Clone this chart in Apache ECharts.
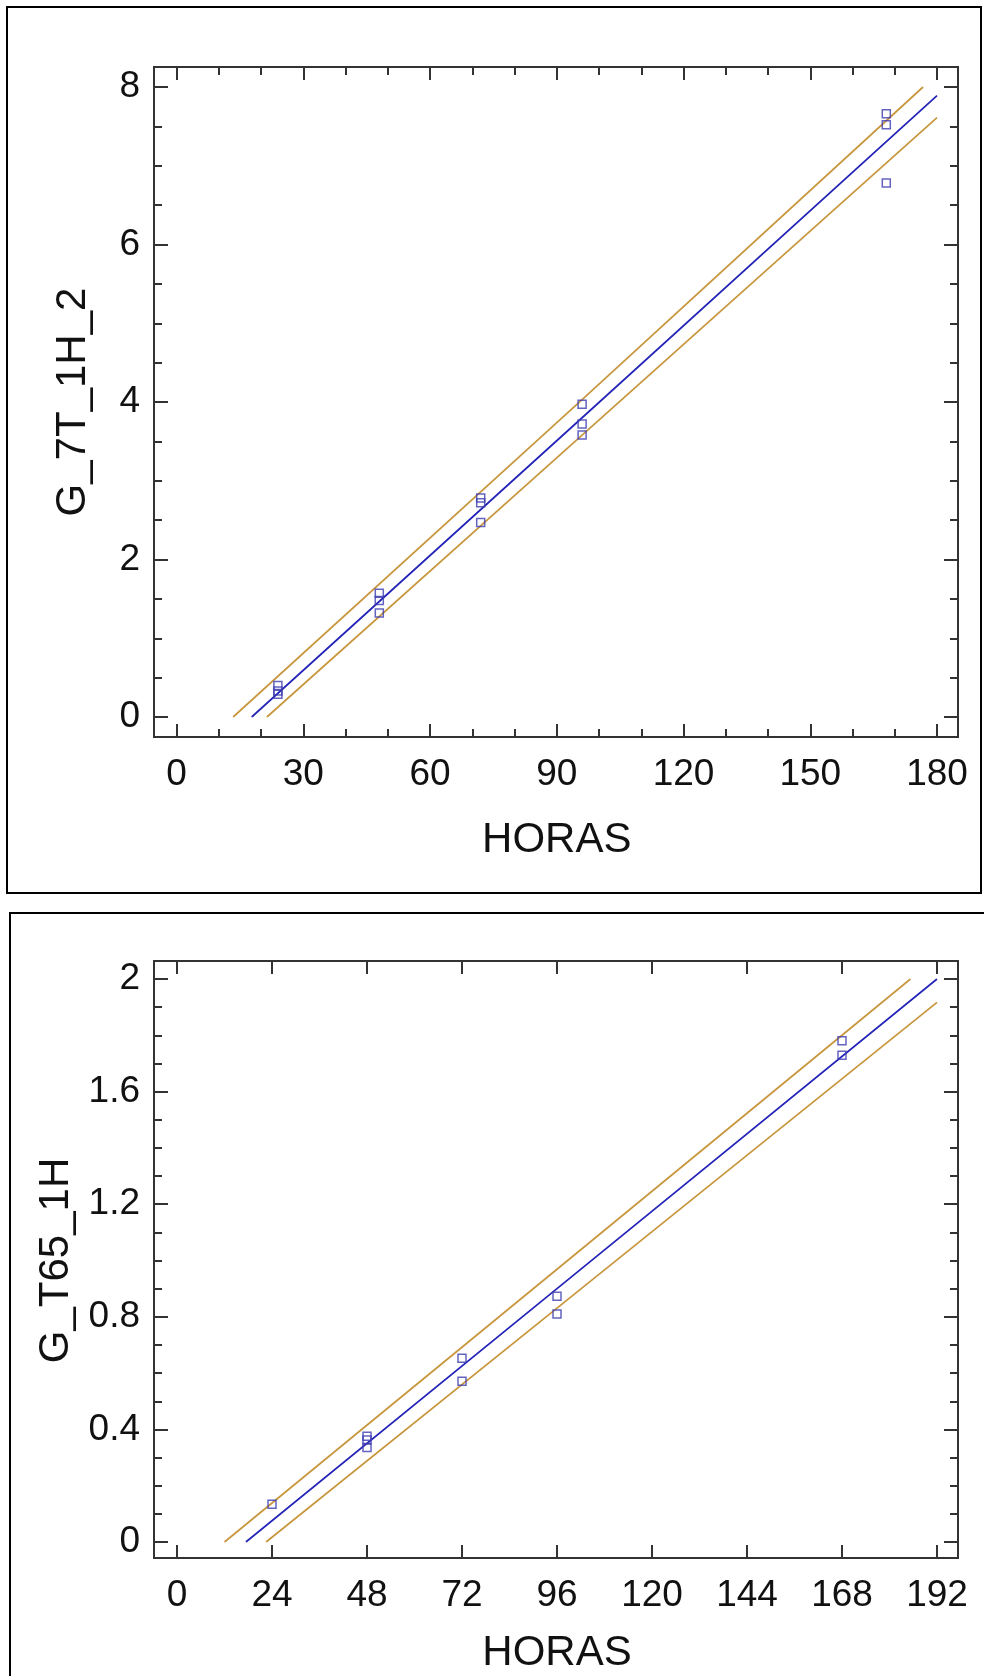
<!DOCTYPE html>
<html>
<head>
<meta charset="utf-8">
<title>HORAS</title>
<script src="https://cdn.jsdelivr.net/npm/echarts@6/dist/echarts.min.js"></script>
<style>
  html, body { margin: 0; padding: 0; background: #fff; }
  #main { width: 984px; height: 1676px; }
</style>
</head>
<body>
<div id="main"></div>
<script>
// datos del grafico 1 (G_7T_1H_2)
var horas1 = [24, 24, 24, 48, 48, 48, 72, 72, 72, 96, 96, 96, 168, 168, 168];
var g7t = [0.40, 0.33, 0.29, 1.57, 1.48, 1.32, 2.78, 2.72, 2.47, 3.97, 3.72, 3.58, 7.66, 7.52, 6.78];
var ajusteX1 = [17.8, 96, 180];
var ajusteY1 = [0, 3.80, 7.89];
var limSupX1 = [13.4, 96, 176.7];
var limSupY1 = [0, 4.03, 8.0];
var limInfX1 = [21.4, 96, 180];
var limInfY1 = [0, 3.58, 7.61];
var ticksX1 = [0, 30, 60, 90, 120, 150, 180];
var ticksY1 = [0, 2, 4, 6, 8];

// datos del grafico 2 (G_T65_1H)
var horas2 = [24, 48, 48, 48, 72, 72, 96, 96, 168, 168];
var gt65 = [0.134, 0.376, 0.362, 0.336, 0.653, 0.571, 0.873, 0.810, 1.781, 1.729];
var ajusteX2 = [17.4, 96, 192];
var ajusteY2 = [0, 0.90, 2.0];
var limSupX2 = [12.0, 96, 185.3];
var limSupY2 = [0, 0.969, 2.0];
var limInfX2 = [22.5, 96, 192];
var limInfY2 = [0, 0.831, 1.917];
var ticksX2 = [0, 24, 48, 72, 96, 120, 144, 168, 192];
var ticksY2 = [0, 0.4, 0.8, 1.2, 1.6, 2];

function pares(xs, ys) {
    return xs.map(function (x, i) { return [x, ys[i]]; });
}

var fuente = '"Liberation Sans", Arial, sans-serif';
var azul = '#2424b8';
var naranja = '#c8963c';
var gris = '#333';

function ejeX(grid, ticks, minor, pos, offset, nombre, gap) {
    return {
        type: 'value', gridIndex: grid, position: pos, offset: offset,
        min: ticks[0], max: ticks[ticks.length - 1], interval: ticks[1] - ticks[0],
        name: nombre, nameLocation: 'middle', nameGap: gap,
        nameTextStyle: { fontFamily: fuente, fontSize: 42, color: '#111' },
        axisLine: { show: false, onZero: false },
        axisTick: { show: true, inside: true, length: 13, lineStyle: { color: gris, width: 2 } },
        minorTick: { show: minor > 0, splitNumber: minor || 5, length: 8, lineStyle: { color: gris, width: 2 } },
        axisLabel: { show: pos === 'bottom', margin: 19, fontFamily: fuente, fontSize: 37, color: '#111' },
        splitLine: { show: false }
    };
}

function ejeY(grid, ticks, minor, pos, offset, nombre) {
    return {
        type: 'value', gridIndex: grid, position: pos, offset: offset,
        min: ticks[0], max: ticks[ticks.length - 1], interval: ticks[1] - ticks[0],
        name: nombre, nameLocation: 'middle', nameGap: 60,
        nameTextStyle: { fontFamily: fuente, fontSize: 42, color: '#111' },
        axisLine: { show: false, onZero: false },
        axisTick: { show: true, inside: true, length: 14, lineStyle: { color: gris, width: 2 } },
        minorTick: { show: true, splitNumber: minor, length: 8, lineStyle: { color: gris, width: 2 } },
        axisLabel: { show: pos === 'left', margin: 14, fontFamily: fuente, fontSize: 37, color: '#111' },
        splitLine: { show: false }
    };
}

function linea(grid, xs, ys, color) {
    return {
        type: 'line', xAxisIndex: grid * 2, yAxisIndex: grid * 2,
        data: pares(xs, ys), symbol: 'none', smooth: false,
        lineStyle: { color: color, width: 1.7 }, z: 2
    };
}

function puntos(grid, xs, ys) {
    return {
        type: 'scatter', xAxisIndex: grid * 2, yAxisIndex: grid * 2,
        data: pares(xs, ys), symbol: 'rect', symbolSize: 8,
        itemStyle: { color: 'rgba(255,255,255,0)', borderColor: '#3c3cb0', borderWidth: 1.5 }, z: 3
    };
}

var myChart = echarts.init(document.getElementById('main'));

var option = {
    animation: false,
    backgroundColor: '#fff',
    grid: [
        { left: 176.5, right: 47, top: 87, height: 630 },
        { left: 177, right: 47, top: 979, height: 563 }
    ],
    xAxis: [
        ejeX(0, ticksX1, 3, 'bottom', 20, 'HORAS', 82),
        ejeX(0, ticksX1, 3, 'top', 20, '', 0),
        ejeX(1, ticksX2, 0, 'bottom', 16, 'HORAS', 74),
        ejeX(1, ticksX2, 0, 'top', 18, '', 0)
    ],
    yAxis: [
        ejeY(0, ticksY1, 4, 'left', 22.5, 'G_7T_1H_2'),
        ejeY(0, ticksY1, 4, 'right', 21, ''),
        ejeY(1, ticksY2, 4, 'left', 23, 'G_T65_1H'),
        ejeY(1, ticksY2, 4, 'right', 21, '')
    ],
    graphic: [
        // recuadros exteriores
        { type: 'rect', shape: { x: 7, y: 7, width: 974, height: 886 }, style: { fill: null, stroke: '#000', lineWidth: 2 } },
        { type: 'rect', shape: { x: 10, y: 913, width: 1000, height: 800 }, style: { fill: null, stroke: '#000', lineWidth: 2 } },
        // marcos de los graficos
        { type: 'rect', shape: { x: 154, y: 67, width: 804, height: 670 }, style: { fill: null, stroke: gris, lineWidth: 2 } },
        { type: 'rect', shape: { x: 154, y: 961, width: 804, height: 597 }, style: { fill: null, stroke: gris, lineWidth: 2 } }
    ],
    series: [
        linea(0, limSupX1, limSupY1, naranja),
        linea(0, limInfX1, limInfY1, naranja),
        linea(0, ajusteX1, ajusteY1, azul),
        puntos(0, horas1, g7t),
        linea(1, limSupX2, limSupY2, naranja),
        linea(1, limInfX2, limInfY2, naranja),
        linea(1, ajusteX2, ajusteY2, azul),
        puntos(1, horas2, gt65)
    ]
};

myChart.setOption(option);
</script>
</body>
</html>
